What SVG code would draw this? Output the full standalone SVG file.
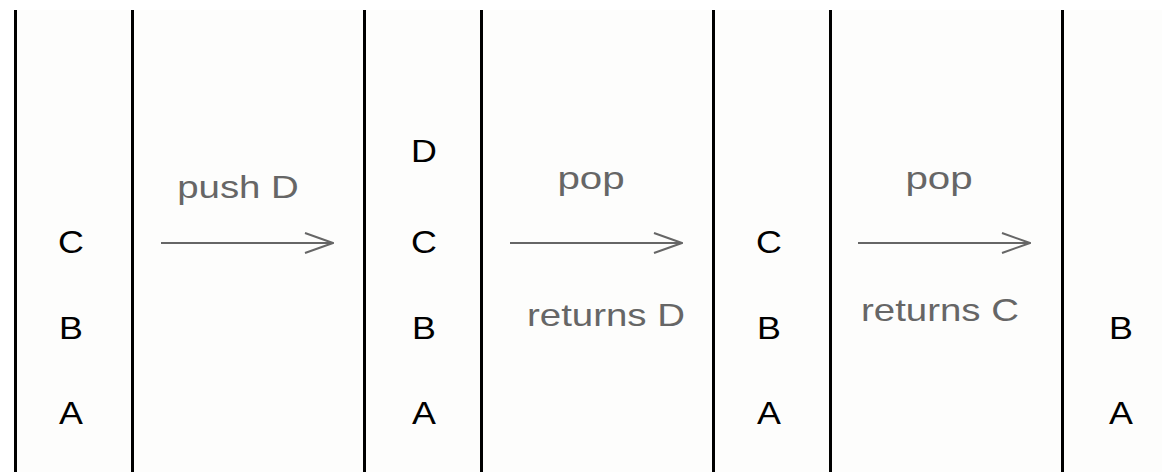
<svg xmlns="http://www.w3.org/2000/svg" width="1162" height="472" viewBox="0 0 1162 472">
<defs>
<style>
.bar{stroke:#000;stroke-width:3}
.item{font-family:"Liberation Sans",Arial,sans-serif;font-size:32px;fill:#000;text-anchor:middle}
.lbl{font-family:"Liberation Sans",Arial,sans-serif;font-size:32px;fill:#666;text-anchor:middle}
.arr{stroke:#666;stroke-width:2;fill:none}
</style>
<marker id="ah" viewBox="0 0 30 22" refX="29" refY="11" markerWidth="30" markerHeight="22" markerUnits="userSpaceOnUse" orient="auto">
<path d="M1,1 L29,11 L1,21" fill="none" stroke="#666" stroke-width="2"/>
</marker>
</defs>
<rect x="0" y="0" width="1162" height="472" fill="#fff"/>
<rect x="16" y="10" width="1146" height="462" fill="#fdfdfc"/>
<g id="bars">
<line class="bar" x1="15.5" y1="10" x2="15.5" y2="472"/>
<line class="bar" x1="132.5" y1="10" x2="132.5" y2="472"/>
<line class="bar" x1="364.5" y1="10" x2="364.5" y2="472"/>
<line class="bar" x1="481.5" y1="10" x2="481.5" y2="472"/>
<line class="bar" x1="713.5" y1="10" x2="713.5" y2="472"/>
<line class="bar" x1="830.5" y1="10" x2="830.5" y2="472"/>
<line class="bar" x1="1062.5" y1="10" x2="1062.5" y2="472"/>
</g>
<g id="stack1">
<text class="item" transform="translate(71,253) scale(1.12,1)">C</text>
<text class="item" transform="translate(71,339) scale(1.12,1)">B</text>
<text class="item" transform="translate(71,424) scale(1.12,1)">A</text>
</g>
<g id="stack2">
<text class="item" transform="translate(424,162) scale(1.12,1)">D</text>
<text class="item" transform="translate(424,253) scale(1.12,1)">C</text>
<text class="item" transform="translate(424,339) scale(1.12,1)">B</text>
<text class="item" transform="translate(424,424) scale(1.12,1)">A</text>
</g>
<g id="stack3">
<text class="item" transform="translate(769,253) scale(1.12,1)">C</text>
<text class="item" transform="translate(769,339) scale(1.12,1)">B</text>
<text class="item" transform="translate(769,424) scale(1.12,1)">A</text>
</g>
<g id="stack4">
<text class="item" transform="translate(1121,339) scale(1.12,1)">B</text>
<text class="item" transform="translate(1121,424) scale(1.12,1)">A</text>
</g>
<g id="connectors">
<line class="arr" x1="161" y1="243" x2="333" y2="243" marker-end="url(#ah)"/>
<line class="arr" x1="510" y1="243" x2="682" y2="243" marker-end="url(#ah)"/>
<line class="arr" x1="858" y1="243" x2="1030" y2="243" marker-end="url(#ah)"/>
</g>
<g id="labels">
<text class="lbl" transform="translate(238,198) scale(1.2,1)">push D</text>
<text class="lbl" transform="translate(591,189) scale(1.26,1)">pop</text>
<text class="lbl" transform="translate(606,326) scale(1.2,1)">returns D</text>
<text class="lbl" transform="translate(939,189) scale(1.26,1)">pop</text>
<text class="lbl" transform="translate(940,321) scale(1.2,1)">returns C</text>
</g>
</svg>
